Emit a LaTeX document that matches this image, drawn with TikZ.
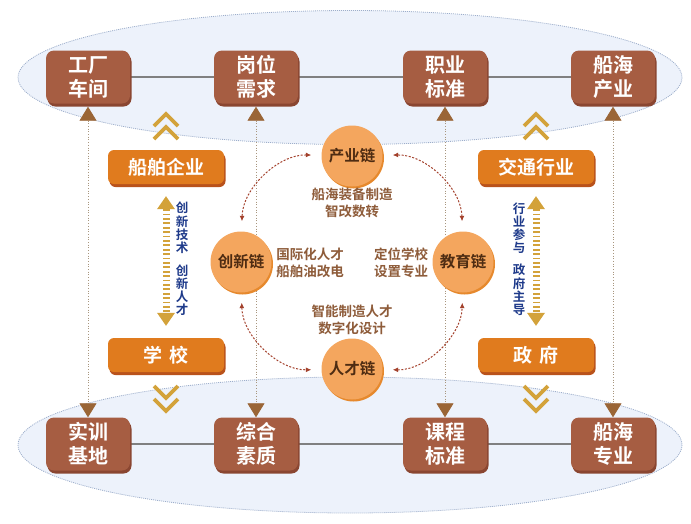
\documentclass[tikz,border=0pt]{standalone}
\usepackage{fontspec}
\setmainfont{Noto Sans CJK SC}[BoldFont={Noto Sans CJK SC Bold}]
\usepackage{tikz}
\usetikzlibrary{arrows.meta,positioning,shapes,shadows,calc}
\pgfdeclarelayer{bg}
\pgfsetlayers{bg,main}
\definecolor{boxbrown}{HTML}{A65D42}
\definecolor{boxshade}{HTML}{8A4631}
\definecolor{orbox}{HTML}{E07B1E}
\definecolor{orshade}{HTML}{B9521B}
\definecolor{ballc}{HTML}{F4A65E}
\definecolor{ballshade}{HTML}{E6892D}
\definecolor{balltext}{HTML}{4E2C12}
\definecolor{notec}{HTML}{8E5C3A}
\definecolor{goldc}{HTML}{D3A23A}
\definecolor{tric}{HTML}{9A6536}
\definecolor{navyc}{HTML}{1E3A8A}
\definecolor{seac}{HTML}{EDF2FB}
\definecolor{seaedge}{HTML}{9DAECB}
\definecolor{loopc}{HTML}{A3412C}
\definecolor{polec}{HTML}{A8967E}

\tikzset{
  brownbox/.style = {fill = boxbrown, rounded corners = 8pt, minimum width = 84pt,
    minimum height = 53pt, text = white, align = center,
    font = \bfseries\fontsize{20}{24}\selectfont,
    drop shadow = {shadow xshift = 1.5pt, shadow yshift = -3pt, fill = boxshade, opacity = 1}},
  orangebox/.style = {fill = orbox, rounded corners = 6pt, minimum width = 116pt,
    minimum height = 34pt, text = white, font = \bfseries\fontsize{19}{22}\selectfont,
    drop shadow = {shadow xshift = 1.5pt, shadow yshift = -3pt, fill = orshade, opacity = 1}},
  ball/.style = {circle, fill = ballc, minimum size = 61pt, inner sep = 0pt, text = balltext,
    font = \bfseries\fontsize{15.5}{18}\selectfont,
    drop shadow = {shadow xshift = 1.5pt, shadow yshift = -2pt, fill = ballshade, opacity = 1}},
  note/.style = {text = notec, align = center, font = \bfseries\fontsize{13.5}{17}\selectfont},
  vlabel/.style = {text = navyc, align = center, inner sep = 0pt,
    font = \bfseries\fontsize{12.5}{13.2}\selectfont},
  poleline/.style = {draw = polec, dotted, line width = .7pt,
    {Triangle[width = 17pt, length = 14pt, color = tric]}-{Triangle[width = 17pt, length = 14pt, color = tric]}},
  goldarrow/.style = {draw = goldc, line width = 7pt, dash pattern = on 1.8pt off 2.6pt,
    shorten <= 12pt, shorten >= 12pt,
    {Triangle[width = 18pt, length = 13pt, line width = 0pt]}-{Triangle[width = 18pt, length = 13pt, line width = 0pt]}},
  chev/.style = {draw = goldc, line width = 3.8pt, miter limit = 6},
  looparrow/.style = {draw = loopc, line width = 1pt, dash pattern = on 2pt off 1.6pt,
    shorten <= 10pt, shorten >= 10pt,
    {Latex[length = 5.5pt, width = 5pt]}-{Latex[length = 5.5pt, width = 5pt]}}
}

\begin{document}
\begin{tikzpicture}[x = 1pt, y = -1pt]
\useasboundingbox (0,0) rectangle (691,523);

% top row
\node[brownbox] (workshop) at (88,77) {工厂\\车间};
\node[brownbox] (post) at (256,77) {岗位\\需求};
\node[brownbox] (standard) at (445,77) {职业\\标准};
\node[brownbox] (industry) at (613,77) {船海\\产业};

% bottom row
\node[brownbox] (base) at (88,444) {实训\\基地};
\node[brownbox] (quality) at (256,444) {综合\\素质};
\node[brownbox] (course) at (445,444) {课程\\标准};
\node[brownbox] (major) at (613,444) {船海\\专业};

% side partners
\node[orangebox] (enterprise) at (166,167) {船舶企业};
\node[orangebox] (traffic) at (536,167) {交通行业};
\node[orangebox] (school) at (166,355) {学\,\,校};
\node[orangebox] (gov) at (536,355) {政\,\,府};

% four chains
\node[ball] (indchain) at (352,156) {产业链};
\node[ball] (innchain) at (241,262) {创新链};
\node[ball] (educhain) at (463,262) {教育链};
\node[ball] (talchain) at (352,369) {人才链};

\node[note] (n1) at (352,203) {船海装备制造\\智改数转};
\node[note] (n2) at (310,263) {国际化人才\\船舶油改电};
\node[note] (n3) at (401,263) {定位学校\\设置专业};
\node[note] (n4) at (352,320) {智能制造人才\\数字化设计};

\node[vlabel] (l1) at (182,228) {创\\新\\技\\术};
\node[vlabel] (l2) at (182,290) {创\\新\\人\\才};
\node[vlabel] (l3) at (519,228) {行\\业\\参\\与};
\node[vlabel] (l4) at (519,290) {政\\府\\主\\导};

\begin{pgfonlayer}{bg}
\fill[seac] (350,77.5) ellipse [x radius = 332, y radius = 67];
\draw[seaedge, line width = .8pt, dash pattern = on 1pt off 1pt] (350,77.5) ellipse [x radius = 332, y radius = 67];
\fill[seac] (350,445) ellipse [x radius = 332, y radius = 68];
\draw[seaedge, line width = .8pt, dash pattern = on 1pt off 1pt] (350,445) ellipse [x radius = 332, y radius = 68];
\draw[gray, line width = 1.1pt] (workshop) -- (post) (post) -- (standard) (standard) -- (industry);
\draw[gray, line width = 1.1pt] (base) -- (quality) (quality) -- (course) (course) -- (major);
\draw[poleline, shorten <= 3pt] (workshop) -- (base);
\draw[poleline, shorten <= 3pt] (post) -- (quality);
\draw[poleline, shorten <= 3pt] (standard) -- (course);
\draw[poleline, shorten <= 3pt] (industry) -- (major);
\end{pgfonlayer}

\draw[goldarrow] (enterprise) -- (school);
\draw[goldarrow] (traffic) -- (gov);

\foreach \x in {166,536} {
  \foreach \dy in {0,13} {
    \draw[chev] (\x-12,126+\dy) -- (\x,114+\dy) -- (\x+12,126+\dy);
    \draw[chev] (\x-12,386+\dy) -- (\x,398+\dy) -- (\x+12,386+\dy);
  }
}

\draw[looparrow] (indchain) to[bend right = 45] (innchain);
\draw[looparrow] (innchain) to[bend right = 45] (talchain);
\draw[looparrow] (talchain) to[bend right = 45] (educhain);
\draw[looparrow] (educhain) to[bend right = 45] (indchain);
\end{tikzpicture}
\end{document}
